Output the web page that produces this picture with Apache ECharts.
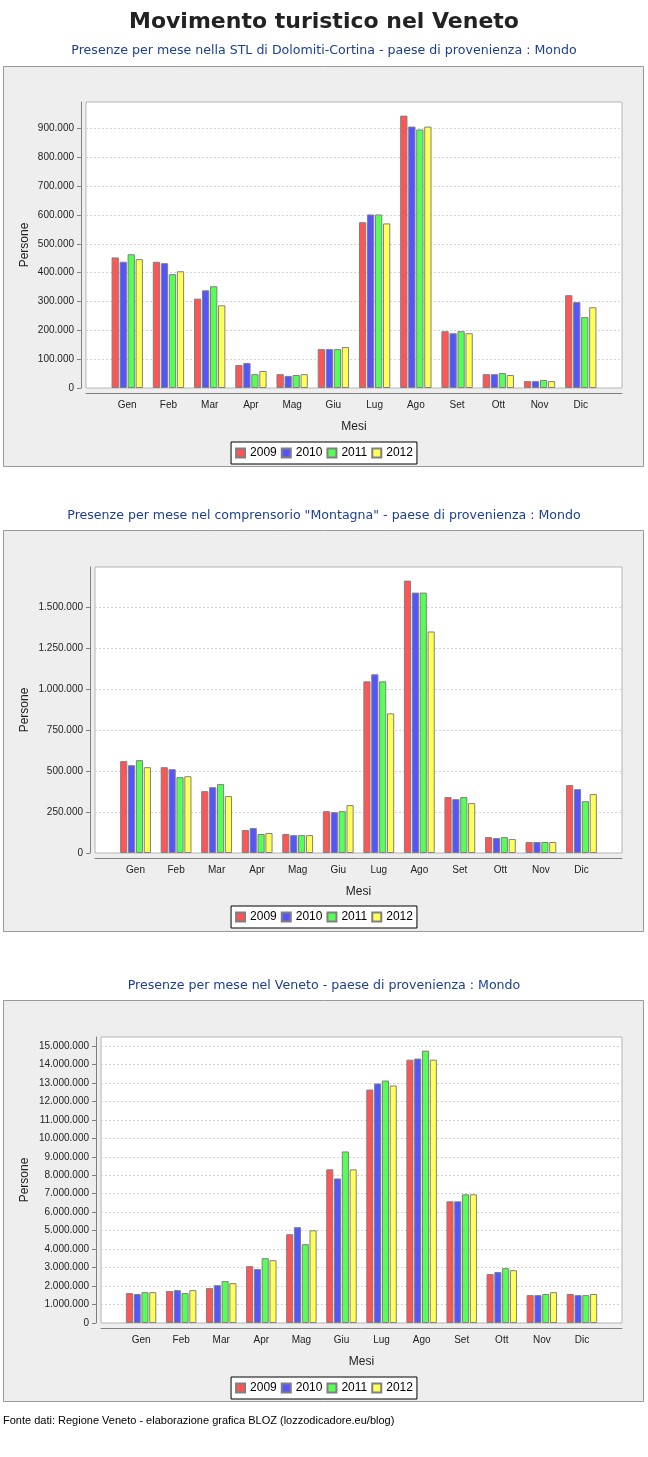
<!DOCTYPE html>
<html><head><meta charset="utf-8">
<script src="https://cdn.jsdelivr.net/npm/echarts@6/dist/echarts.min.js"></script>
<style>html,body{margin:0;padding:0;background:#fff}#c{width:648px;height:1457px}</style>
</head><body><div id="c"></div><script>
const months = ['Gen','Feb','Mar','Apr','Mag','Giu','Lug','Ago','Set','Ott','Nov','Dic'];
const years = ['2009','2010','2011','2012'];
const yearColors = ['#FF5555','#5555FF','#55FF55','#FFFF55'];

// Chart 1: STL Dolomiti-Cortina
const dolomiti2009 = [453000,438000,310000,80000,48000,135000,575000,945000,197000,48000,24000,322000];
const dolomiti2010 = [438000,433000,339000,87000,42000,135000,602000,907000,190000,48000,24000,298000];
const dolomiti2011 = [464000,395000,353000,48000,45000,135000,602000,897000,197000,52000,28000,246000];
const dolomiti2012 = [447000,405000,287000,59000,48000,142000,571000,907000,190000,45000,24000,280000];
const dolomitiTicks = [0,100000,200000,300000,400000,500000,600000,700000,800000,900000];

// Chart 2: comprensorio Montagna
const montagna2009 = [560000,523000,377000,140000,116000,255000,1046000,1660000,341000,97000,67000,414000];
const montagna2010 = [535000,511000,401000,152000,109000,249000,1089000,1587000,328000,91000,67000,389000];
const montagna2011 = [566000,462000,420000,116000,109000,255000,1046000,1587000,341000,97000,67000,316000];
const montagna2012 = [523000,468000,347000,122000,109000,292000,851000,1350000,304000,85000,67000,359000];
const montagnaTicks = [0,250000,500000,750000,1000000,1250000,1500000];

// Chart 3: Veneto
const veneto2009 = [1620000,1730000,1890000,3080000,4810000,8320000,12640000,14260000,6590000,2650000,1510000,1570000];
const veneto2010 = [1570000,1780000,2050000,2920000,5190000,7830000,12970000,14320000,6590000,2760000,1510000,1510000];
const veneto2011 = [1670000,1620000,2270000,3510000,4270000,9290000,13130000,14750000,6970000,2970000,1570000,1510000];
const veneto2012 = [1670000,1780000,2160000,3400000,5020000,8320000,12860000,14260000,6970000,2860000,1670000,1570000];
const venetoTicks = [0,1000000,2000000,3000000,4000000,5000000,6000000,7000000,8000000,9000000,10000000,11000000,12000000,13000000,14000000,15000000];

const mainTitle = 'Movimento turistico nel Veneto';
const subTitles = [
  'Presenze per mese nella STL di Dolomiti-Cortina - paese di provenienza : Mondo',
  'Presenze per mese nel comprensorio "Montagna" - paese di provenienza : Mondo',
  'Presenze per mese nel Veneto - paese di provenienza : Mondo'
];
const footer = 'Fonte dati: Regione Veneto - elaborazione grafica BLOZ (lozzodicadore.eu/blog)';

const charts = [
  {series:[dolomiti2009,dolomiti2010,dolomiti2011,dolomiti2012], ticks:dolomitiTicks},
  {series:[montagna2009,montagna2010,montagna2011,montagna2012], ticks:montagnaTicks},
  {series:[veneto2009,veneto2010,veneto2011,veneto2012], ticks:venetoTicks}
];

// layout (not data)
const layout = [
  {grid:{left:86,top:102,width:536,height:286}, nameGap:50, legendTop:442, subTop:44, panel:[3.5,66.5,640,400]},
  {grid:{left:95,top:567,width:527,height:286}, nameGap:59, legendTop:906, subTop:509, panel:[3.5,530.5,640,401]},
  {grid:{left:101,top:1037,width:521,height:286}, nameGap:65, legendTop:1377, subTop:979, panel:[3.5,1000.5,640,401]}
];

const fmt = v => String(Math.round(v)).replace(/\B(?=(\d{3})+(?!\d))/g, '.');
const axisFont = 'Liberation Sans, Arial, sans-serif';

const option = {
  animation:false,
  backgroundColor:'#ffffff',
  title:[
    {text:mainTitle, left:'center', top:11, padding:0,
     textStyle:{fontFamily:'DejaVu Sans', fontWeight:'bold', fontSize:22, color:'#222'}},
    ...subTitles.map((t,i)=>({text:t, left:'center', top:layout[i].subTop, padding:0,
     textStyle:{fontFamily:'DejaVu Sans', fontWeight:'normal', fontSize:12.6, color:'#1c3f8f'}})),
    {text:footer, left:3, top:1415, padding:0,
     textStyle:{fontFamily:axisFont, fontWeight:'normal', fontSize:11, color:'#000'}}
  ],
  graphic: layout.map(l=>({type:'rect', z:-100, silent:true,
     shape:{x:l.panel[0], y:l.panel[1], width:l.panel[2], height:l.panel[3]},
     style:{fill:'#eeeeee', stroke:'#999999', lineWidth:1}})),
  legend: layout.map(l=>({data:years, left:'center', top:l.legendTop, orient:'horizontal',
     backgroundColor:'#ffffff', borderColor:'#000000', borderWidth:1, borderRadius:0,
     padding:[5,4], itemGap:4, itemWidth:9, itemHeight:9, icon:'rect', selectedMode:false,
     textStyle:{fontFamily:axisFont, fontSize:12, color:'#000'}})),
  grid: layout.map(l=>Object.assign({show:true, backgroundColor:'#ffffff', borderColor:'#b4b4b4', borderWidth:1,
     containLabel:false, outerBoundsMode:'none'}, l.grid)),
  xAxis: layout.map((l,i)=>({type:'value', gridIndex:i, min:-1, max:12, interval:1, offset:5,
     axisLine:{show:true, onZero:false, lineStyle:{color:'#808080', width:1}},
     axisTick:{show:false}, splitLine:{show:false},
     axisLabel:{show:true, margin:7, fontFamily:axisFont, fontSize:10, color:'#222',
       formatter: v => (months[v] !== undefined ? months[v] : '')},
     name:'Mesi', nameLocation:'middle', nameGap:28, nameMoveOverlap:false,
     nameTextStyle:{fontFamily:axisFont, fontSize:12, color:'#222'}})),
  yAxis: charts.map((c,i)=>{
    const all = [].concat(...c.series);
    return {type:'value', gridIndex:i, min:0, max:Math.max(...all)*1.05,
     interval:c.ticks[1]-c.ticks[0], offset:5,
     axisLine:{show:true, onZero:false, lineStyle:{color:'#808080', width:1}},
     axisTick:{show:true, length:4, customValues:c.ticks, lineStyle:{color:'#808080'}},
     axisLabel:{show:true, customValues:c.ticks, margin:7, fontFamily:axisFont, fontSize:10, color:'#222', formatter:fmt},
     splitLine:{show:true, lineStyle:{color:'#d4d4d4', type:[2,2], width:1}},
     name:'Persone', nameLocation:'middle', nameGap:layout[i].nameGap, nameRotate:90, nameMoveOverlap:false,
     nameTextStyle:{fontFamily:axisFont, fontSize:12, color:'#222'}};
  }),
  series: []
};

charts.forEach((c,i)=>{
  c.series.forEach((vals,k)=>{
    option.series.push({type:'bar', name:years[k], xAxisIndex:i, yAxisIndex:i,
      data: vals.map((v,j)=>[j,v]),
      barGap:'10%', barCategoryGap:'24%',
      itemStyle:{color:yearColors[k], borderColor:'#808080', borderWidth:1},
      emphasis:{disabled:true}});
  });
});

const chart = echarts.init(document.getElementById('c'), null, {renderer:'canvas'});
chart.setOption(option);
</script></body></html>
